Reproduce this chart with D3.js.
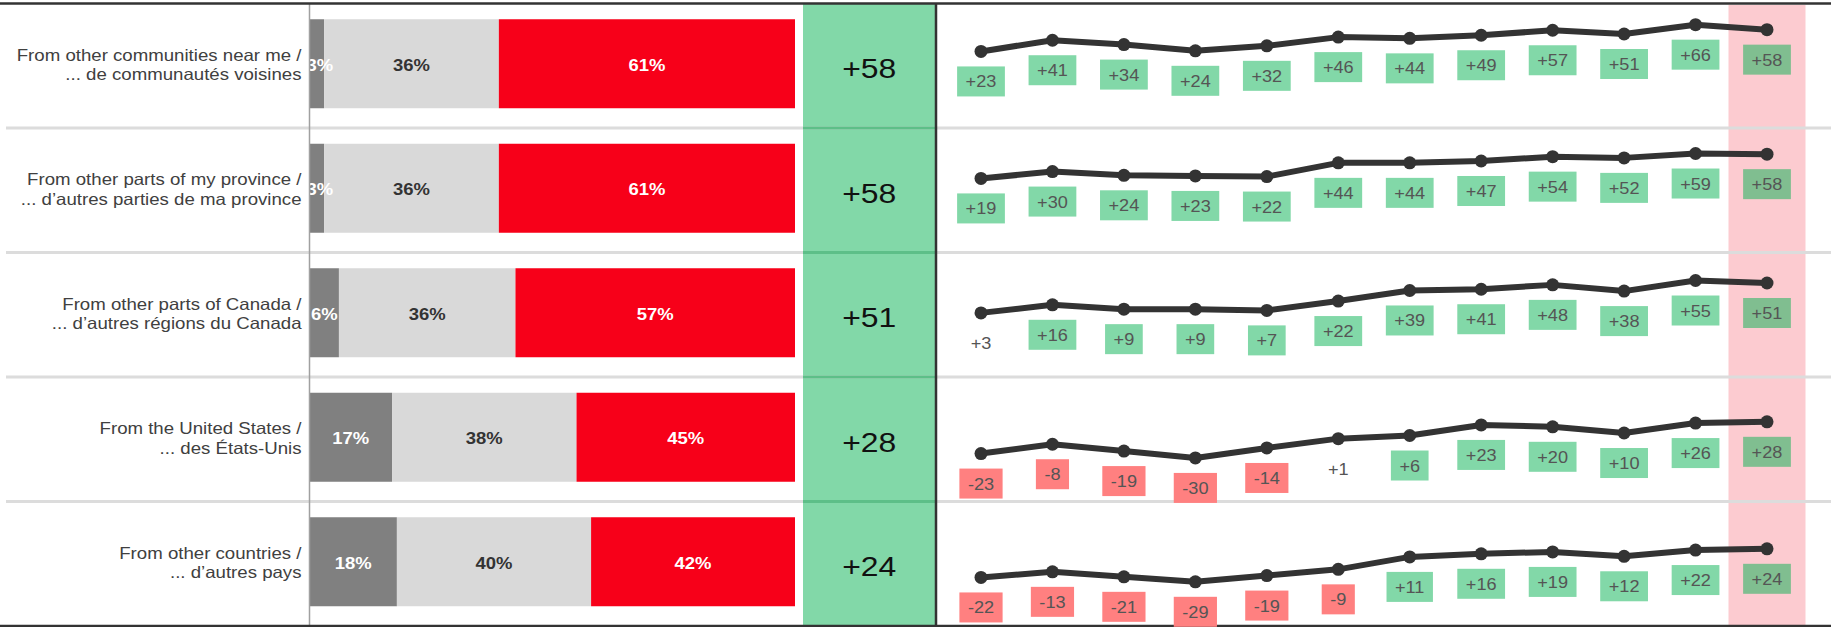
<!DOCTYPE html>
<html><head><meta charset="utf-8">
<script src="https://cdn.jsdelivr.net/npm/d3@7"></script>
<style>
body{margin:0;background:#fff;}
svg{display:block;font-family:"Liberation Sans",Arial,sans-serif;}
</style>
</head><body>
<svg id="chart" width="1831" height="627"></svg>
<script>
// ---------- DATA ----------
const categories = ["near", "province", "canada", "us", "other"];
const labelEn = ["From other communities near me /", "From other parts of my province /", "From other parts of Canada /", "From the United States /", "From other countries /"];
const labelFr = ["... de communautés voisines", "... d\u2019autres parties de ma province", "... d\u2019autres régions du Canada", "... des États-Unis", "... d\u2019autres pays"];
const pctGrey = [3, 3, 6, 17, 18];
const pctNeutral = [36, 36, 36, 38, 40];
const pctRed = [61, 61, 57, 45, 42];
const netScore = [58, 58, 51, 28, 24];
const waves = ["W1","W2","W3","W4","W5","W6","W7","W8","W9","W10","W11","W12"];
const trendNear = [23, 41, 34, 24, 32, 46, 44, 49, 57, 51, 66, 58];
const trendProvince = [19, 30, 24, 23, 22, 44, 44, 47, 54, 52, 59, 58];
const trendCanada = [3, 16, 9, 9, 7, 22, 39, 41, 48, 38, 55, 51];
const trendUS = [-23, -8, -19, -30, -14, 1, 6, 23, 20, 10, 26, 28];
const trendOther = [-22, -13, -21, -29, -19, -9, 11, 16, 19, 12, 22, 24];
const trends = [trendNear, trendProvince, trendCanada, trendUS, trendOther];

// ---------- SETUP ----------
const W = 1831, H = 627;
const svg = d3.select("#chart");
const TOP = 3.5, BOTTOM = 626;
const STRETCH = 1.15;

const yRow = d3.scaleBand().domain(categories).range([TOP, BOTTOM]);
const bw = yRow.bandwidth();
const xBar = d3.scaleLinear().domain([0, 100]).range([309.5, 795]);
const xWave = d3.scalePoint().domain(waves).range([981, 1767]);
const yTrend = d3.scaleLinear().domain([-100, 100]).range([bw, 0]);
const barH = 89;

const greenCol = {x0: 803, x1: 935.5};

function sText(g, x, y, txt, opts) {
  const t = g.append("text")
    .attr("transform", `translate(${x},${y}) scale(${opts.sx || STRETCH},1)`)
    .attr("text-anchor", opts.anchor || "middle")
    .attr("font-size", opts.size)
    .attr("font-weight", opts.weight || "normal")
    .attr("fill", opts.fill)
    .text(txt);
  return t;
}

// pink highlight band for the last wave
const lastX = xWave(waves[waves.length - 1]);
svg.append("rect")
  .attr("x", lastX - 38.5).attr("y", 5)
  .attr("width", 77).attr("height", BOTTOM - 5)
  .attr("fill", "#fccbd0");

// green net column
svg.append("rect")
  .attr("x", greenCol.x0).attr("y", TOP)
  .attr("width", greenCol.x1 - greenCol.x0).attr("height", BOTTOM - TOP)
  .attr("fill", "#82d8a8");

// row separators
categories.slice(1).forEach(c => {
  const y = yRow(c);
  svg.append("line").attr("x1", 6).attr("x2", W).attr("y1", y).attr("y2", y)
    .attr("stroke", "#dcdcdc").attr("stroke-width", 3);
  svg.append("line").attr("x1", greenCol.x0).attr("x2", greenCol.x1).attr("y1", y).attr("y2", y)
    .attr("stroke", "#5dbf88").attr("stroke-width", 3);
});

// ---------- LEFT LABELS ----------
const gLab = svg.append("g");
categories.forEach((c, i) => {
  const cy = yRow(c) + bw / 2;
  sText(gLab, 301.5, cy - 5, labelEn[i], {anchor: "end", size: 16.5, fill: "#404040", sx: 1.13});
  sText(gLab, 301.5, cy + 14.5, labelFr[i], {anchor: "end", size: 16.5, fill: "#404040", sx: 1.13});
});

// ---------- STACKED BARS ----------
const gBars = svg.append("g");
const gBarText = svg.append("g");
const segColors = ["#808080", "#d9d9d9", "#f70019"];
const segText = ["#ffffff", "#333333", "#ffffff"];
categories.forEach((c, i) => {
  const vals = [pctGrey[i], pctNeutral[i], pctRed[i]];
  const total = d3.sum(vals);
  const yTop = yRow(c) + (bw - barH) / 2 - 2;
  let cum = 0;
  vals.forEach((v, k) => {
    const x0 = xBar(cum / total * 100);
    cum += v;
    const x1 = xBar(cum / total * 100);
    gBars.append("rect").attr("x", x0).attr("y", yTop)
      .attr("width", x1 - x0).attr("height", barH).attr("fill", segColors[k]);
    sText(gBarText, (x0 + x1) / 2 + (x1 - x0 < 25 ? 3 : 0), yTop + barH / 2 + 7, v + "%", {size: 16.5, weight: "bold", fill: segText[k], sx: 1.12});
  });
  // net score
  sText(gBarText, (greenCol.x0 + greenCol.x1) / 2, yRow(c) + bw / 2 + 12.5, "+" + netScore[i], {size: 28.5, fill: "#111", sx: 1.12});
});

// axis line for the bars
svg.append("line").attr("x1", 309.5).attr("x2", 309.5).attr("y1", TOP).attr("y2", BOTTOM)
  .attr("stroke", "#a0a0a0").attr("stroke-width", 1.5);
// dark divider
svg.append("line").attr("x1", 936).attr("x2", 936).attr("y1", TOP).attr("y2", BOTTOM)
  .attr("stroke", "#333").attr("stroke-width", 2.5);
// top / bottom borders
[TOP, BOTTOM].forEach(y => svg.append("line").attr("x1", 0).attr("x2", W).attr("y1", y).attr("y2", y)
  .attr("stroke", "#333").attr("stroke-width", 2.5));

// ---------- TREND LINES ----------
const gTrend = svg.append("g");
const line = d3.line().x((d, j) => xWave(waves[j])).y(d => yTrend(d));
categories.forEach((c, i) => {
  const g = gTrend.append("g").attr("transform", `translate(0,${yRow(c)})`);
  const data = trends[i];
  g.append("path").datum(data).attr("d", line)
    .attr("fill", "none").attr("stroke", "#333").attr("stroke-width", 6).attr("stroke-linejoin", "round");
  g.selectAll("circle").data(data).join("circle")
    .attr("cx", (d, j) => xWave(waves[j])).attr("cy", d => yTrend(d)).attr("r", 6.5).attr("fill", "#333");
  data.forEach((v, j) => {
    const x = xWave(waves[j]);
    const y = yTrend(v) + 30;
    const txt = (v > 0 ? "+" : "") + v;
    const isLast = j === data.length - 1;
    let fill = null;
    if (v >= 5) fill = isLast ? "#80be90" : "#82d8a8";
    else if (v <= -5) fill = "#ff8080";
    const box = g.append("rect");
    const t = sText(g, x, y + 6, txt, {size: 16.5, fill: "#555", sx: 1.1});
    const tw = t.node().getComputedTextLength() * 1.1;
    if (fill) {
      box.attr("x", x - tw / 2 - 8.5).attr("y", y - 15).attr("width", tw + 17).attr("height", 30).attr("fill", fill);
    } else box.remove();
  });
});
</script>
</body></html>
